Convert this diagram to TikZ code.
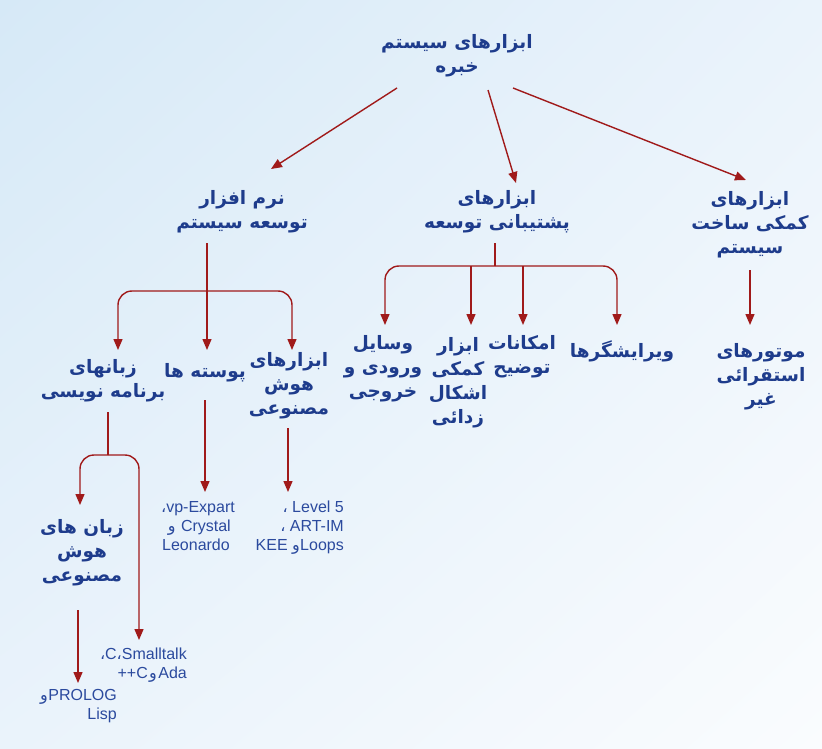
\documentclass[tikz,border=0pt]{standalone}
\usepackage{fontspec}
\setmainfont{Liberation Sans}
\newfontfamily\arabicfont[Script=Arabic]{DejaVu Sans}
\TeXXeTstate=1
\usetikzlibrary{arrows.meta,calc,shadings}
\definecolor{txtblue}{HTML}{1E3C8C}
\definecolor{latblue}{HTML}{2B4A9E}
\definecolor{arrred}{HTML}{A01A1A}
\definecolor{bgA}{HTML}{D6E9F7}
\definecolor{bgB}{HTML}{EAF3FB}
\definecolor{bgC}{HTML}{FAFCFE}
\newcommand\fa[1]{\beginR #1\endR}
\newcommand\fc[1]{\hbox{\arabicfont #1}}
\begin{document}
\begin{tikzpicture}[x=1pt,y=-1pt,
  fa/.style={text=txtblue, font=\arabicfont\bfseries\fontsize{18.5}{24}\selectfont, align=center, inner sep=0pt},
  lat/.style={text=latblue, font=\fontsize{16}{19.5}\selectfont, inner sep=0pt, anchor=base east},
  waw/.style={text=latblue, font=\arabicfont\fontsize{16}{19.5}\selectfont, inner sep=0pt, anchor=base east},
  arr/.style={draw=arrred, line width=1.4pt, -{Triangle[width=9pt,length=11pt]}},
  ln/.style={draw=arrred, line width=1.1pt},
  rc/.style={rounded corners=14pt}]
\shade[upper left=bgA, upper right=bgB, lower left=bgB, lower right=bgC] (0,0) rectangle (822,749);
\useasboundingbox (0,0) rectangle (822,749);

% nodes
\node[fa] (root) at (457,56) {\fa{ابزارهای سیستم}\\\fa{خبره}};
\node[fa] (n1) at (242,212) {\fa{نرم افزار}\\\fa{توسعه سیستم}};
\node[fa] (n2) at (497,212) {\fa{ابزارهای}\\\fa{پشتیبانی توسعه}};
\node[fa] (n3) at (750,225) {\fa{ابزارهای}\\\fa{کمکی ساخت}\\\fa{سیستم}};

\node[fa] (L1) at (103,381) {\fa{زبانهای}\\\fa{برنامه نویسی}};
\node[fa] (L2) at (205,373) {\fa{پوسته ها}};
\node[fa] (L3) at (289,386) {\fa{ابزارهای}\\\fa{هوش}\\\fa{مصنوعی}};

\node[fa] (M1) at (383,369) {\fa{وسایل}\\\fa{ورودی و}\\\fa{خروجی}};
\node[fa] (M2) at (458,383) {\fa{ابزار}\\\fa{کمکی}\\\fa{اشکال}\\\fa{زدائی}};
\node[fa] (M3) at (522,357) {\fa{امکانات}\\\fa{توضیح}};
\node[fa] (M4) at (622,351) {\fa{ویرایشگرها}};

\node[fa] (R1) at (761,377) {\fa{موتورهای}\\\fa{استقرائی}\\\fa{غیر}};

\node[fa] (B1) at (82,553) {\fa{زبان های}\\\fa{هوش}\\\fa{مصنوعی}};

% Latin lists, one node per piece
\node[lat] (V1) at (235,512) {\fc{،}vp-Expart};
\node[lat] (V2) at (231,531) {Crystal};
\node[waw] (V2w) at ($(V2.base west)+(-5,0)$) {و};
\node[lat] (V3) at (230,550) {Leonardo};

\node[lat] (K1) at (344,512) {\fc{،} Level 5};
\node[lat] (K2) at (344,531) {\fc{،} ART-IM};
\node[lat] (K3) at (344,550) {Loops};
\node[waw] (K3w) at (K3.base west) {و};
\node[lat] (K3k) at ($(K3w.base west)+(-4,0)$) {KEE};

\node[lat] (S1) at (187,659) {\fc{،}C\fc{،}Smalltalk};
\node[lat] (S2) at (187,678) {Ada};
\node[waw] (S2w) at ($(S2.base west)+(-1,0)$) {و};
\node[lat] (S2c) at ($(S2w.base west)+(-1,0)$) {++C};

\node[lat] (P1) at (117,700) {PROLOG};
\node[waw] (P1w) at (P1.base west) {و};
\node[lat] (P2) at (117,719) {Lisp};

% root connectors
\draw[arr] ($(root)+(-60,32)$) -- ($(n1)+(29,-43)$);
\draw[arr] ($(root)+(31,34)$) -- ($(n2)+(19,-29)$);
\draw[arr] ($(root)+(56,32)$) -- ($(n3)+(-4,-45)$);

% n1 bracket
\coordinate (j1) at ($(n1)+(-35,79)$);
\draw[arr] ($(n1)+(-35,31)$) -- ($(L2)+(2,-23)$);
\draw[arr, rc] (j1) -| ($(L1)+(15,-31)$);
\draw[arr, rc] (j1) -| ($(L3)+(3,-36)$);

% n2 bracket
\coordinate (j2) at ($(n2)+(-2,54)$);
\draw[ln] ($(n2)+(-2,31)$) -- (j2);
\draw[arr, rc] (j2) -| ($(M1)+(2,-44)$);
\draw[arr] ($(M2)+(13,-58)-(0,59)$) -- ($(M2)+(13,-58)$);
\draw[arr] ($(M3)+(1,-32)-(0,59)$) -- ($(M3)+(1,-32)$);
\draw[arr, rc] (j2) -| ($(M4)+(-5,-26)$);

% n3
\draw[arr] ($(n3)+(0,45)$) -- ($(R1)+(-11,-52)$);

% L1 bracket
\coordinate (j3) at ($(L1)+(5,74)$);
\draw[ln] ($(L1)+(5,31)$) -- (j3);
\draw[arr, rc] (j3) -| ($(B1)+(-2,-48)$);
\draw[arr, rc] (j3) -| ($(S1.base east)+(-48,-19)$);

% L2, L3, B1
\draw[arr] ($(L2)+(0,27)$) -- ($(V1.base east)+(-30,-20)$);
\draw[arr] ($(L3)+(-1,42)$) -- ($(K1.base east)+(-56,-20)$);
\draw[arr] ($(B1)+(-4,57)$) -- ($(P1.base east)+(-39,-17)$);
\end{tikzpicture}
\end{document}
